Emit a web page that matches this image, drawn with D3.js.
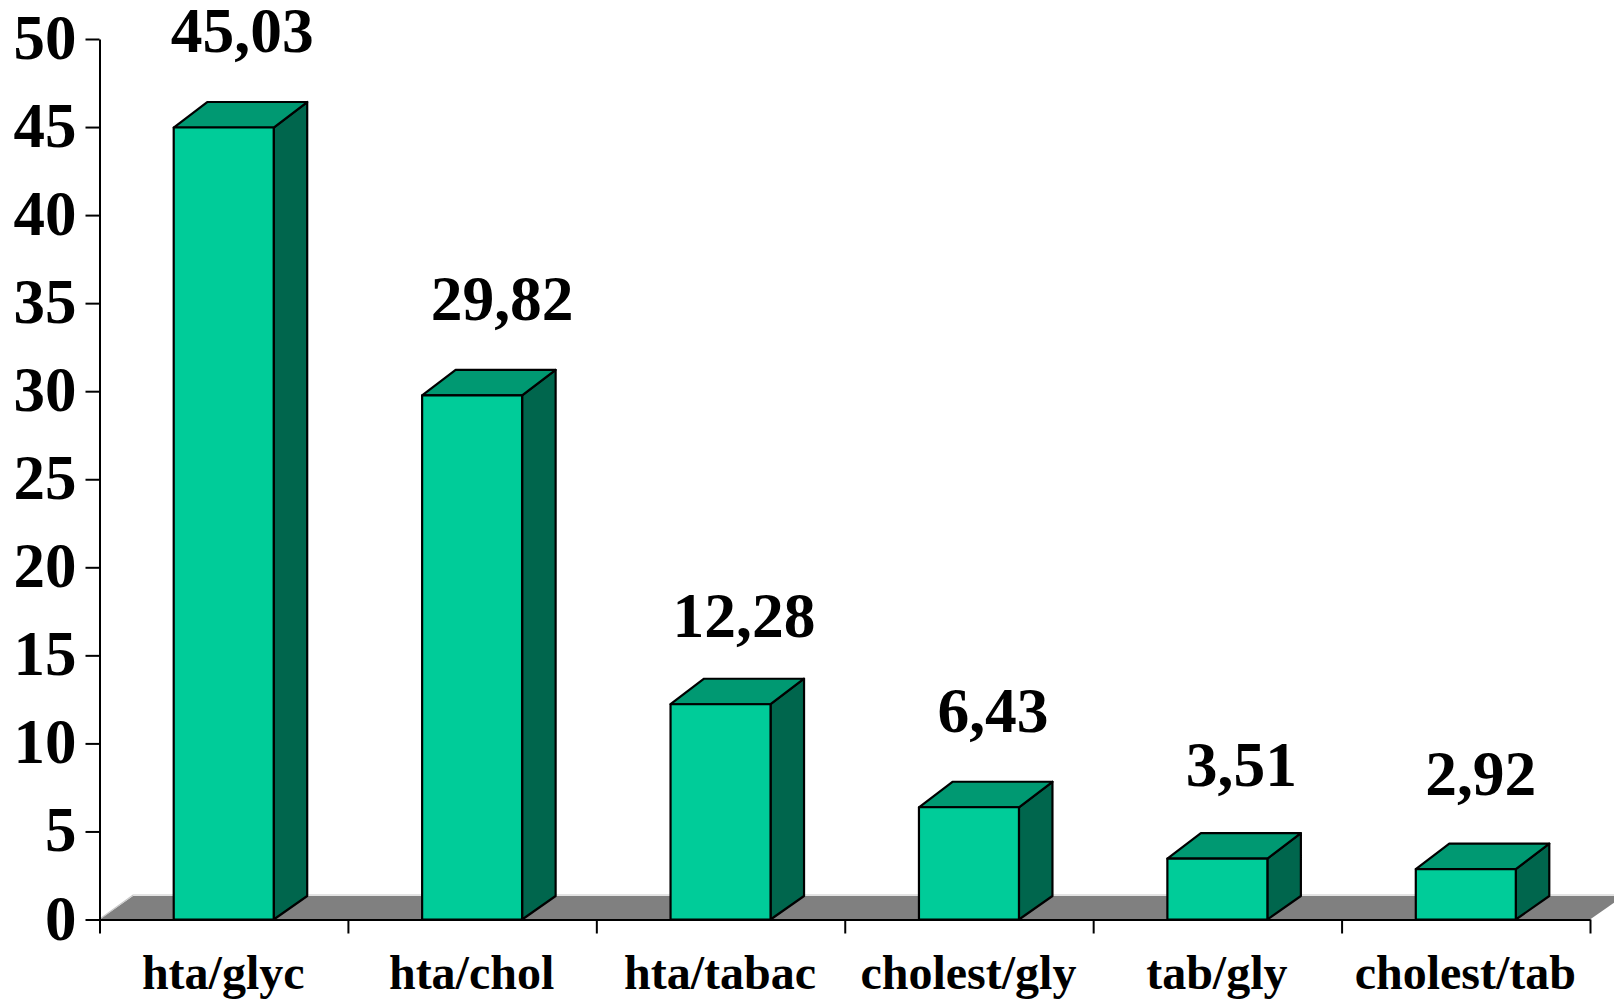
<!DOCTYPE html>
<html><head><meta charset="utf-8">
<script src="https://cdn.jsdelivr.net/npm/d3@7/dist/d3.min.js"></script>
<style>
html,body{margin:0;padding:0;background:#fff;overflow:hidden}
svg{display:block}
text{font-family:"Liberation Serif",serif;font-weight:bold;fill:#000}
</style></head><body>
<svg id="c" width="1614" height="1000"></svg>
<script>
const categories=["hta/glyc","hta/chol","hta/tabac","cholest/gly","tab/gly","cholest/tab"];
const values=[45.03,29.82,12.28,6.43,3.51,2.92];
const valueLabels=["45,03","29,82","12,28","6,43","3,51","2,92"];
const yTicks=[0,5,10,15,20,25,30,35,40,45,50];

const svg=d3.select("#c");
const x0=99.5,x1=1590,y0=919.5,y50=39,dx=33.5,dy=25.5,floorDy=23.5,barW=100,topShift=1;
const x=d3.scaleBand().domain(categories).range([x0,x1]);
const y=d3.scaleLinear().domain([0,50]).range([y0,y50]);
const labelNudgeX=[18.5,30,23.5,24,24,15], labelNudgeY=[75,74,66,74,72,73];

// floor
svg.append("path").attr("d",`M${x0},${y0}L${x0+dx},${y0-floorDy}H${x1+dx}L${x1},${y0}Z`).attr("fill","#808080");
svg.append("path").attr("d",`M${x0+1},${y0-1}L${x0+dx},${y0-floorDy-1}H1614`).attr("fill","none").attr("stroke","#c8c8c8").attr("stroke-width",1.2);

// bars
const g=svg.selectAll("g.bar").data(values).join("g").attr("class","bar");
const L=(d,i)=>x(categories[i])+x.bandwidth()/2-barW/2;
const T=d=>y(d)+topShift;
const st=s=>s.attr("stroke","#000").attr("stroke-width",2.2).attr("stroke-linejoin","round");
g.append("path").attr("d",(d,i)=>{const a=L(d,i)+barW,t=T(d);return `M${a},${t}l${dx},${-dy}V${y0-floorDy}L${a},${y0}Z`}).attr("fill","#00664D").call(st);
g.append("path").attr("d",(d,i)=>{const a=L(d,i),t=T(d);return `M${a},${t}l${dx},${-dy}h${barW}l${-dx},${dy}Z`}).attr("fill","#009972").call(st);
g.append("rect").attr("x",L).attr("y",T).attr("width",barW).attr("height",d=>y0-T(d)).attr("fill","#00CC99").call(st);

// axes
const ay=svg.append("g").attr("transform",`translate(${x0},0)`).call(d3.axisLeft(y).tickValues(yTicks).tickSize(14).tickPadding(9).tickSizeOuter(0));
const ax=svg.append("g").attr("transform",`translate(0,${y0})`).call(d3.axisBottom(d3.scaleLinear().domain([0,6]).range([x0,x1])).ticks(6).tickSize(14).tickFormat("").tickSizeOuter(0));
svg.selectAll(".domain,.tick line").attr("stroke","#000").attr("stroke-width",2);
ay.selectAll("text").attr("font-size",63).attr("dy","0.31em").attr("fill","#000").style("font-family",'"Liberation Serif",serif');

// category labels
svg.selectAll("text.cat").data(categories).join("text").attr("class","cat")
 .attr("x",d=>x(d)+x.bandwidth()/2-0.5).attr("y",988.5).attr("text-anchor","middle").attr("font-size",48).text(d=>d);
// value labels
svg.selectAll("text.val").data(values).join("text").attr("class","val")
 .attr("x",(d,i)=>x(categories[i])+x.bandwidth()/2+labelNudgeX[i])
 .attr("y",(d,i)=>y(d)-labelNudgeY[i])
 .attr("text-anchor","middle").attr("font-size",63.5).text((d,i)=>valueLabels[i]);
</script></body></html>
